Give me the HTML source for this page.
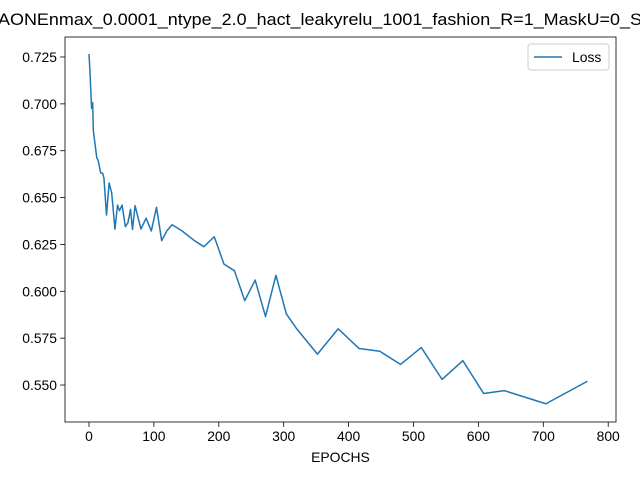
<!DOCTYPE html>
<html><head><meta charset="utf-8"><style>
body{margin:0;background:#fff;}
svg{display:block;font-family:"Liberation Sans","DejaVu Sans",sans-serif;}
</style></head><body>
<svg id="chart" width="640" height="480" viewBox="0 0 640 480">
<rect x="0" y="0" width="640" height="480" fill="#fff"/>
<text x="-2" y="25" font-size="16.5" textLength="644" lengthAdjust="spacingAndGlyphs">AONEnmax_0.0001_ntype_2.0_hact_leakyrelu_1001_fashion_R=1_MaskU=0_S</text>
<g id="axes"></g>
</svg>
<script>
const epochs=[0,1.5,4,5.7,6.6,12,14,18,21,23,27,31,35,40,44,47,51,56,60,64,67,71,80,88,96,104,112,120,128,143,161,177,193,208,224,240,256,272,288,304,320,352,384,416,448,480,512,544,576,608,640,704,768];
const loss=[0.7266,0.7172,0.6976,0.7006,0.686,0.6711,0.670,0.6631,0.663,0.6605,0.6407,0.6578,0.6524,0.6332,0.646,0.643,0.646,0.6345,0.6366,0.6437,0.633,0.6457,0.6332,0.639,0.6322,0.6448,0.627,0.6323,0.6355,0.6323,0.6274,0.6238,0.6291,0.6145,0.611,0.595,0.606,0.5865,0.6085,0.588,0.580,0.5665,0.580,0.5695,0.568,0.561,0.570,0.553,0.563,0.5455,0.547,0.540,0.552];
const xTicks=[0,100,200,300,400,500,600,700,800];
const yTicks=[0.550,0.575,0.600,0.625,0.650,0.675,0.700,0.725];
const L=65,R=616,T=37,B=422;
const X=v=>89+v*0.649;
const Y=v=>57+(0.725-v)/0.025*46.86;
const NS="http://www.w3.org/2000/svg";
const g=document.getElementById('axes');
function mk(t,a){const e=document.createElementNS(NS,t);for(const k in a)e.setAttribute(k,a[k]);g.appendChild(e);return e;}
xTicks.forEach(v=>{
 const t=mk('line',{x1:X(v),x2:X(v),y1:B,y2:B+4.9,stroke:'#000','stroke-width':0.8});
 
 
 const l=mk('text',{x:X(v),y:B+19,'font-size':13.9,'text-anchor':'middle'});
 l.textContent=v;
 
 
});
yTicks.forEach(v=>{
 const t=mk('line',{x1:L-4.9,x2:L,y1:Y(v),y2:Y(v),stroke:'#000','stroke-width':0.8});
 
 
 const l=mk('text',{x:L-8,y:Y(v)+5,'font-size':13.9,'text-anchor':'end'});
 l.textContent=v.toFixed(3);
 
 
});
const p=mk('polyline',{points:epochs.map((e,i)=>X(e)+','+Y(loss[i])).join(' '),fill:'none',stroke:'#1f77b4','stroke-width':1.5,'stroke-linejoin':'round'});


const fr=mk('rect',{x:L,y:T,width:R-L,height:B-T,fill:'none',stroke:'#000','stroke-width':0.8});


const xl=mk('text',{x:(L+R)/2,y:462,'font-size':13.9,'text-anchor':'middle'});
xl.textContent='EPOCHS';


const lg=mk('g',{});


const lb=document.createElementNS(NS,'rect');
[['x',528],['y',44],['width',81],['height',26],['rx',3],['fill','#fff'],['stroke','#ccc'],['stroke-width',1]].forEach(a=>lb.setAttribute(a[0],a[1]));
lg.appendChild(lb);
const ll=document.createElementNS(NS,'line');
[['x1',534],['x2',562],['y1',57],['y2',57],['stroke','#1f77b4'],['stroke-width',1.5]].forEach(a=>ll.setAttribute(a[0],a[1]));


lg.appendChild(ll);
const lt=document.createElementNS(NS,'text');
[['x',572],['y',62],['font-size',13.9]].forEach(a=>lt.setAttribute(a[0],a[1]));
lt.textContent='Loss';


lg.appendChild(lt);
</script>
</body></html>
